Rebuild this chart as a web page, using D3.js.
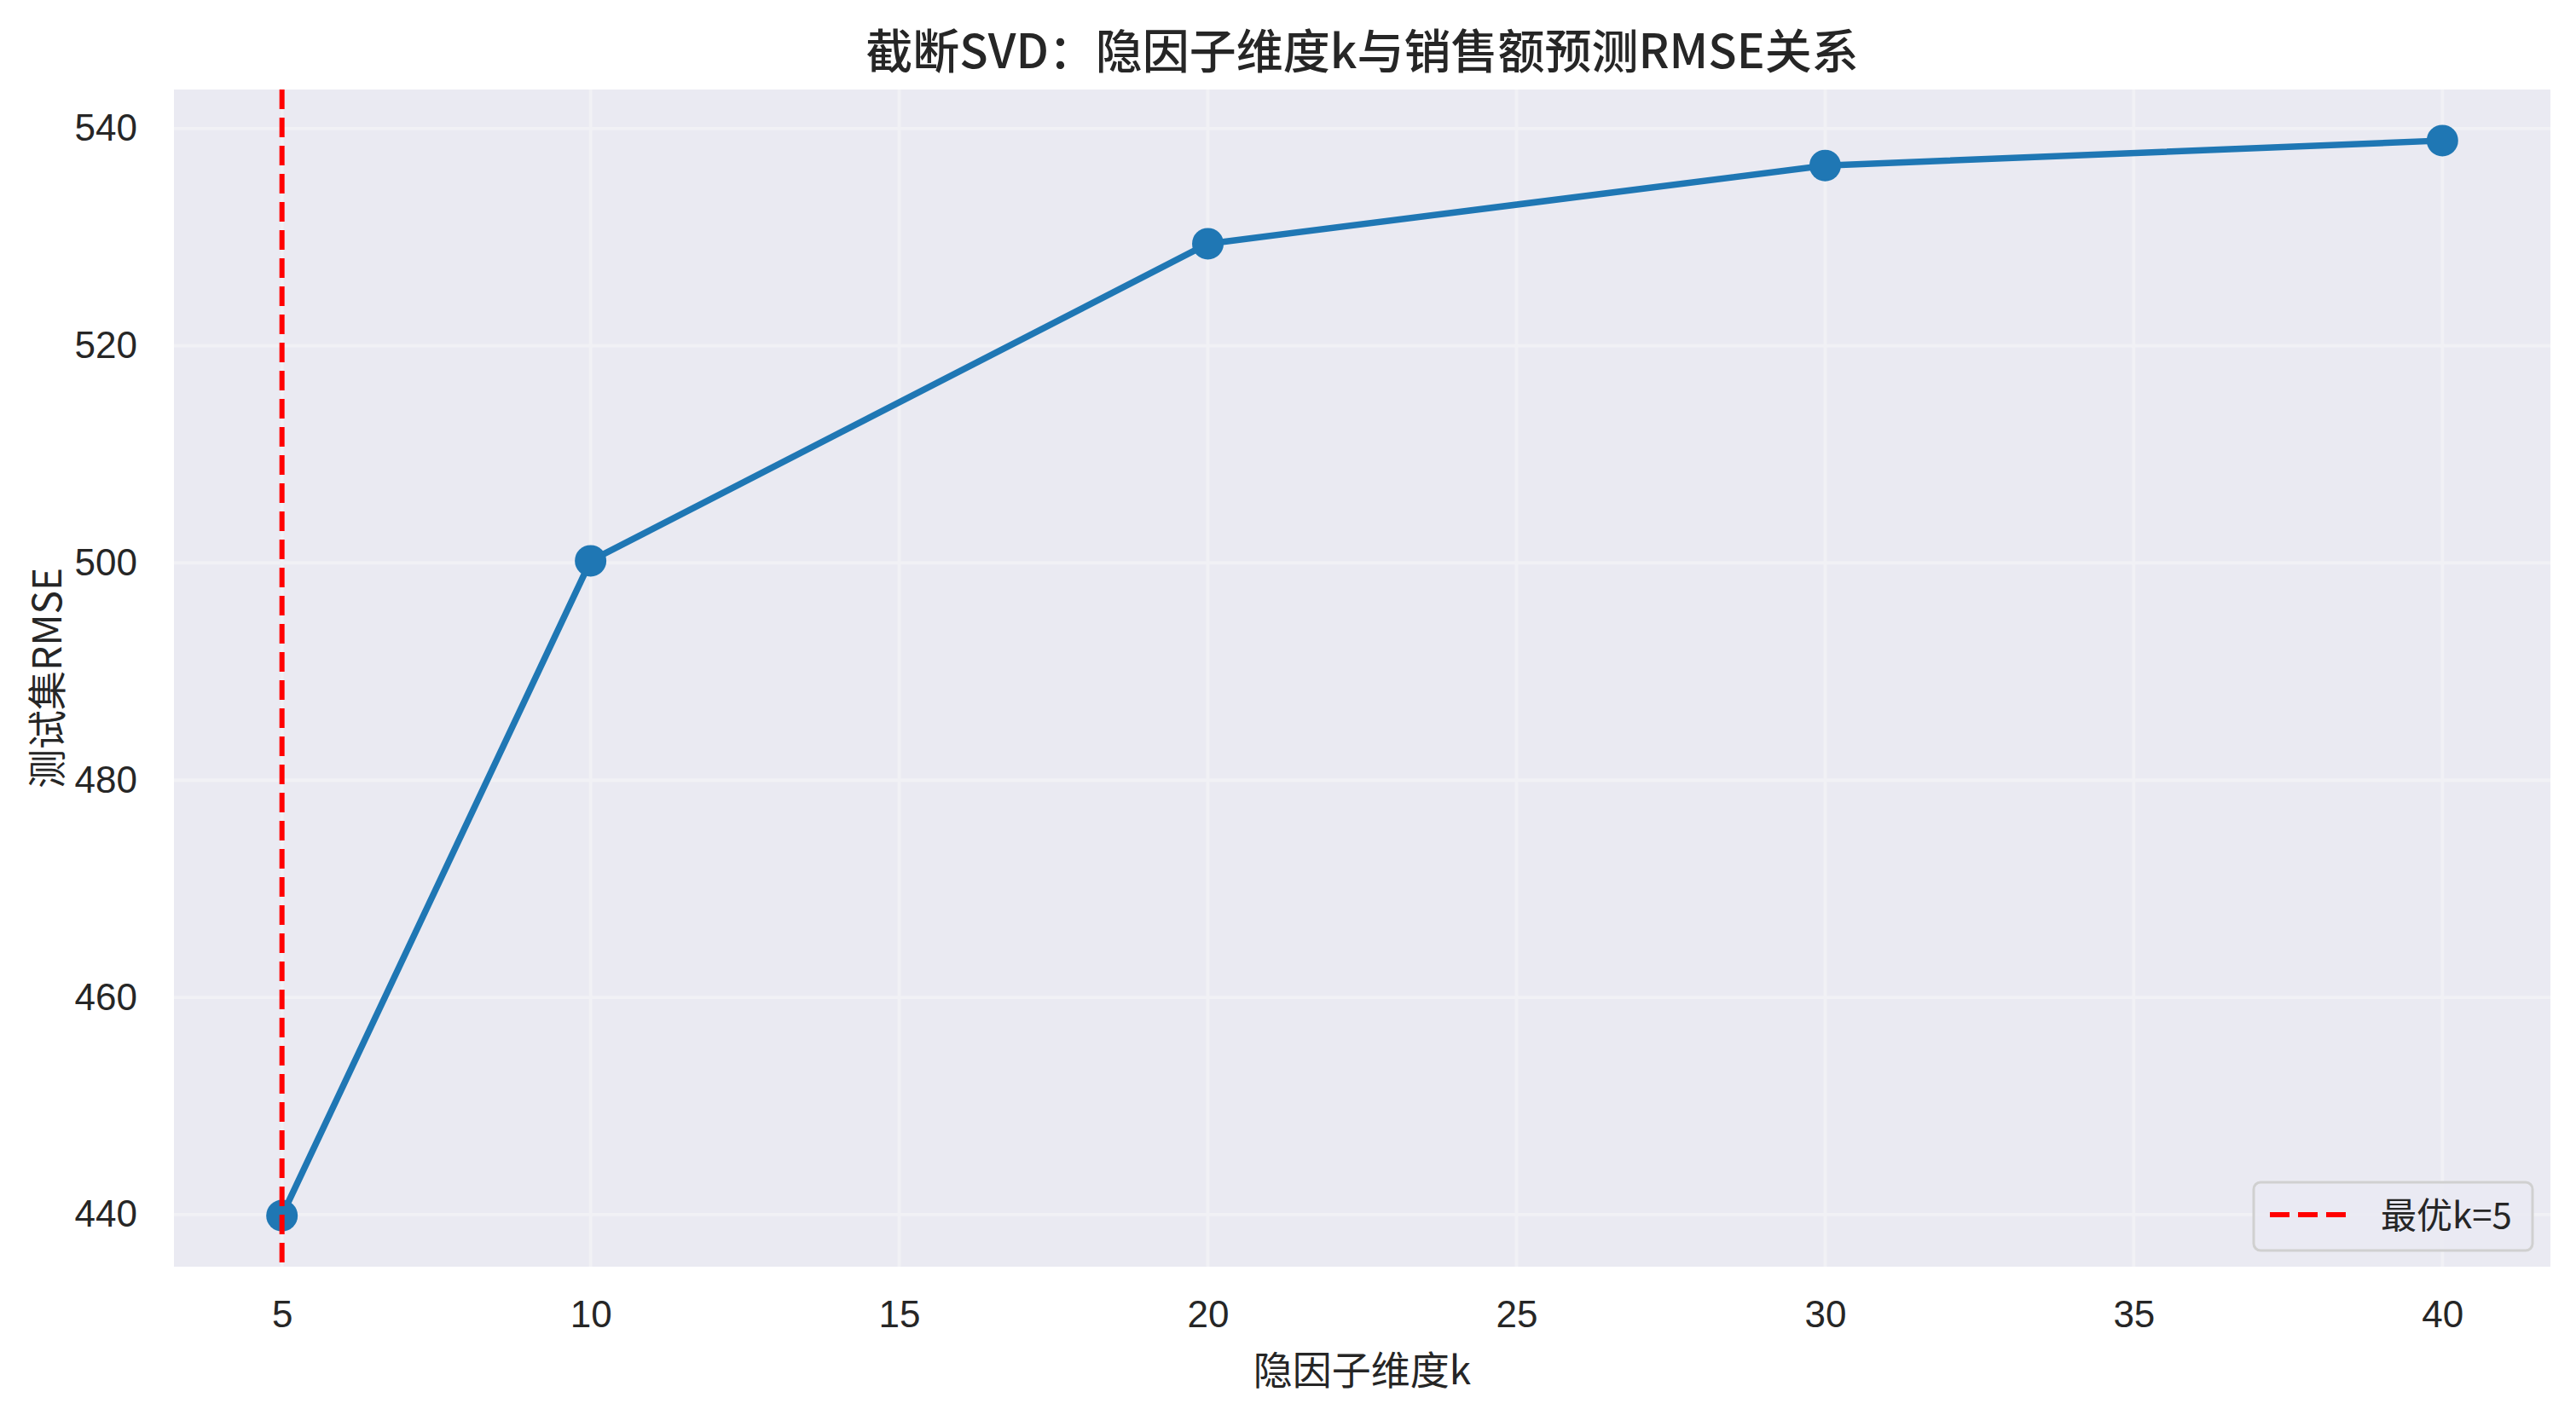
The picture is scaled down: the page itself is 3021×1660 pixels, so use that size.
<!DOCTYPE html>
<html>
<head>
<meta charset="utf-8">
<script src="https://cdn.jsdelivr.net/npm/d3@7"></script>
<style>
  html, body { margin: 0; padding: 0; background: #ffffff; }
  svg { display: block; }
  text { font-family: "Liberation Sans", "Noto Sans CJK SC", sans-serif; fill: #262626; }
  .cjk { font-family: "Noto Sans CJK SC", "Liberation Sans", sans-serif; }
</style>
</head>
<body>
<svg id="chart" width="3021" height="1660"></svg>
<script>
// ---- data ----
const kValues = [5, 10, 20, 30, 40];
const rmseValues = [439.9, 500.2, 529.4, 536.6, 538.9];
const bestK = 5;
const xTicks = [5, 10, 15, 20, 25, 30, 35, 40];
const yTicks = [440, 460, 480, 500, 520, 540];
const titleText = "截断SVD：隐因子维度k与销售额预测RMSE关系";
const xLabelText = "隐因子维度k";
const yLabelText = "测试集RMSE";
const legendText = "最优k=5";

// ---- layout ----
const W = 3021, H = 1660;
const plot = { left: 204, right: 2991, top: 105, bottom: 1486 };

const svg = d3.select("#chart");

const x = d3.scaleLinear().domain([3.25, 41.75]).range([plot.left, plot.right]);
const y = d3.scaleLinear().domain([435.2, 543.6]).range([plot.bottom, plot.top]);

// background
svg.append("rect")
  .attr("x", plot.left).attr("y", plot.top)
  .attr("width", plot.right - plot.left).attr("height", plot.bottom - plot.top)
  .attr("fill", "#eaeaf2");

// grid
const grid = svg.append("g");
grid.selectAll("line.v").data(xTicks).enter().append("line")
  .attr("x1", d => x(d)).attr("x2", d => x(d))
  .attr("y1", plot.top).attr("y2", plot.bottom)
  .attr("stroke", "#f1f1f5").attr("stroke-width", 3.8);
grid.selectAll("line.h").data(yTicks).enter().append("line")
  .attr("y1", d => y(d)).attr("y2", d => y(d))
  .attr("x1", plot.left).attr("x2", plot.right)
  .attr("stroke", "#f1f1f5").attr("stroke-width", 3.8);

// axes (labels only, no spines/ticks)
const xAxis = d3.axisBottom(x).tickValues(xTicks).tickSize(0).tickPadding(40).tickFormat(d3.format("d"));
const gx = svg.append("g").attr("transform", `translate(0,${plot.bottom})`).call(xAxis);
gx.select(".domain").remove();
gx.selectAll("text").attr("font-size", 44).style("fill", "#262626")
  .style("font-family", "'Liberation Sans', sans-serif");

const yAxis = d3.axisLeft(y).tickValues(yTicks).tickSize(0).tickPadding(43).tickFormat(d3.format("d"));
const gy = svg.append("g").attr("transform", `translate(${plot.left},0)`).call(yAxis);
gy.select(".domain").remove();
gy.selectAll("text").attr("font-size", 44).style("fill", "#262626")
  .style("font-family", "'Liberation Sans', sans-serif");

// line + markers
const pts = kValues.map((k, i) => ({ k, v: rmseValues[i] }));
const line = d3.line().x(d => x(d.k)).y(d => y(d.v));
svg.append("path").datum(pts)
  .attr("d", line).attr("fill", "none")
  .attr("stroke", "#1f77b4").attr("stroke-width", 7.5)
  .attr("stroke-linejoin", "round").attr("stroke-linecap", "butt");
svg.selectAll("circle.pt").data(pts).enter().append("circle")
  .attr("cx", d => x(d.k)).attr("cy", d => y(d.v)).attr("r", 18.5)
  .attr("fill", "#1f77b4");

// best-k vertical dashed line
svg.append("line")
  .attr("x1", x(bestK)).attr("x2", x(bestK))
  .attr("y1", plot.top).attr("y2", plot.bottom)
  .attr("stroke", "#ff0000").attr("stroke-width", 6)
  .attr("stroke-dasharray", "23,10");

// legend
const lg = svg.append("g");
lg.append("rect")
  .attr("x", 2643).attr("y", 1387).attr("width", 327).attr("height", 80)
  .attr("rx", 8).attr("ry", 8)
  .attr("fill", "#eaeaf2").attr("fill-opacity", 0.8)
  .attr("stroke", "#d0d0d0").attr("stroke-width", 3);
lg.append("line")
  .attr("x1", 2662).attr("x2", 2752).attr("y1", 1425).attr("y2", 1425)
  .attr("stroke", "#ff0000").attr("stroke-width", 6)
  .attr("stroke-dasharray", "23,10");
lg.append("text").attr("class", "cjk")
  .attr("x", 2792).attr("y", 1441).attr("font-size", 42)
  .text(legendText);

// title
svg.append("text").attr("class", "cjk")
  .attr("x", (plot.left + plot.right) / 2).attr("y", 80)
  .attr("text-anchor", "middle").attr("font-size", 55).attr("font-weight", 500)
  .text(titleText);

// axis labels
svg.append("text").attr("class", "cjk")
  .attr("x", (plot.left + plot.right) / 2).attr("y", 1624)
  .attr("text-anchor", "middle").attr("font-size", 46)
  .text(xLabelText);
svg.append("text").attr("class", "cjk")
  .attr("transform", `translate(72,${(plot.top + plot.bottom) / 2}) rotate(-90)`)
  .attr("text-anchor", "middle").attr("font-size", 46)
  .text(yLabelText);
</script>
</body>
</html>
